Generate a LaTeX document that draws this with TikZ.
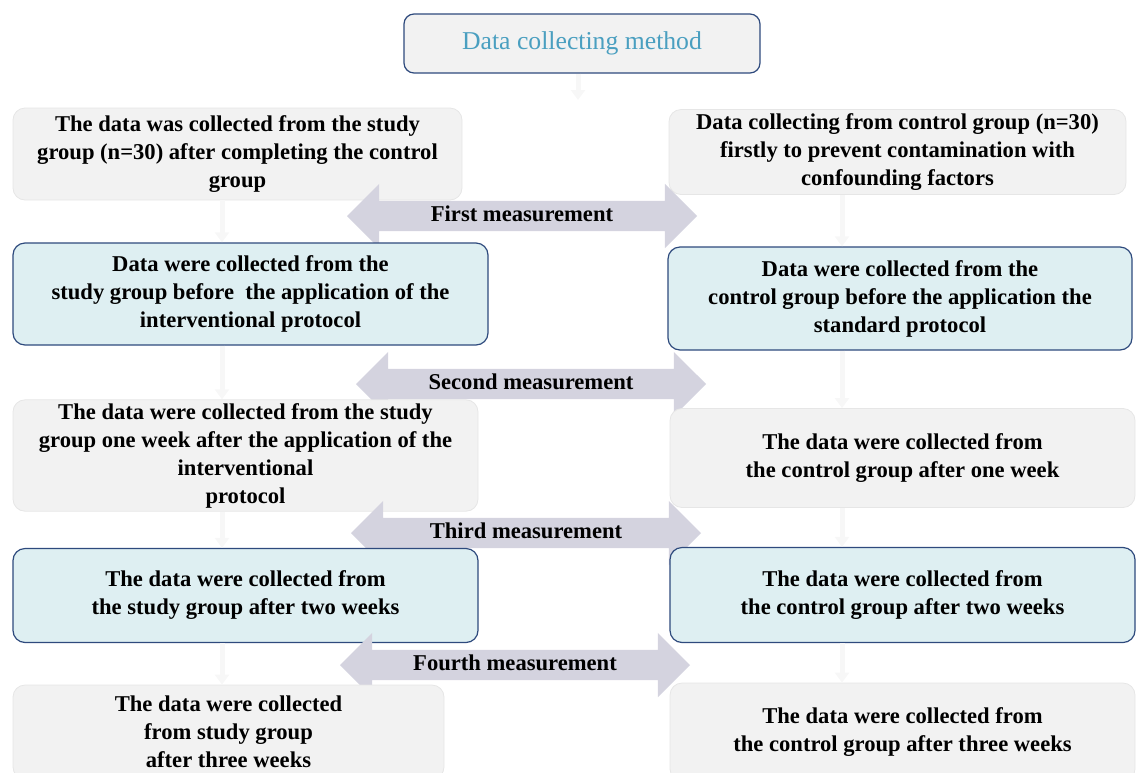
\documentclass[tikz,border=0pt]{standalone}
\usepackage{fontspec}
\setmainfont{Liberation Serif}
\usetikzlibrary{shapes.arrows, arrows.meta}
\definecolor{boxgray}{RGB}{242,242,242}
\definecolor{edgegray}{RGB}{230,230,230}
\definecolor{boxcyan}{RGB}{222,239,242}
\definecolor{edgeblue}{RGB}{46,74,125}
\definecolor{titleblue}{RGB}{74,159,192}
\definecolor{arrowgray}{RGB}{212,211,223}
\tikzset{
  plain/.style = {rectangle, rounded corners=12pt, fill=boxgray, draw=edgegray, line width=0.8pt, align=center, font=\bfseries\fontsize{22.6}{28}\selectfont},
  stage/.style = {plain, fill=boxcyan, draw=edgeblue, line width=1.2pt},
  title/.style = {rectangle, rounded corners=10pt, fill=boxgray, draw=edgeblue, line width=1.2pt, text=titleblue, font=\fontsize{25.7}{30}\selectfont},
  measure/.style = {double arrow, double arrow head extend=17pt, double arrow head indent=0pt, fill=arrowgray, minimum height=350pt, inner ysep=6pt, text height=14pt, text depth=4pt, font=\bfseries\fontsize{22.6}{26}\selectfont},
  link/.style = {draw=gray!6, line width=5pt, -{Triangle[width=14pt,length=10pt]}}
}
\begin{document}
\begin{tikzpicture}[x=1pt,y=-1pt]
\useasboundingbox (0,0) rectangle (1140,772);
\coordinate (lc) at (222,0);
\coordinate (rc) at (842,0);
% title
\node (method) [title, minimum width=356pt, minimum height=59pt] at (582,43.5) {Data collecting method};
\coordinate (split) at (578,100);
% first row
\node (l1) [plain, minimum width=449pt, minimum height=92pt] at (237.5,154) {The data was collected from the study\\group (n=30) after completing the control\\group};
\node (r1) [plain, minimum width=457pt, minimum height=85pt] at (897.5,152) {Data collecting from control group (n=30)\\firstly to prevent contamination with\\confounding factors};
\node (m1) [measure] at (522,216) {First measurement};
% second row
\node (l2) [stage, minimum width=475pt, minimum height=102pt] at (250.5,294) {Data were collected from the\\study group before\ \ the application of the\\interventional protocol};
\node (r2) [stage, minimum width=464pt, minimum height=103pt] at (900,298.5) {Data were collected from the\\control group before the application the\\standard protocol};
\node (m2) [measure] at (531,384) {Second measurement};
% third row
\node (l3) [plain, minimum width=465pt, minimum height=110pt] at (245.5,455.5) {The data were collected from the study\\group one week after the application of the\\interventional\\protocol};
\node (r3) [plain, minimum width=465pt, minimum height=99pt] at (902.5,458) {The data were collected from\\the control group after one week};
\node (m3) [measure] at (526,533) {Third measurement};
% fourth row
\node (l4) [stage, minimum width=465pt, minimum height=94pt] at (245.5,595.5) {The data were collected from\\the study group after two weeks};
\node (r4) [stage, minimum width=465pt, minimum height=95pt] at (902.5,595) {The data were collected from\\the control group after two weeks};
\node (m4) [measure] at (515,665) {Fourth measurement};
% last row
\node (l5) [plain, minimum width=431pt, minimum height=94pt] at (228.5,732) {The data were collected\\from study group\\after three weeks};
\node (r5) [plain, minimum width=465pt, minimum height=98pt] at (902.5,732) {The data were collected from\\the control group after three weeks};
% faint links
\draw [link] (method.south -| split) -- (split);
\draw [link] (l1.south -| lc) -- (l2.north -| lc);
\draw [link] (l2.south -| lc) -- (l3.north -| lc);
\draw [link] (l3.south -| lc) -- (l4.north -| lc);
\draw [link] (l4.south -| lc) -- (l5.north -| lc);
\draw [link] (r1.south -| rc) -- (r2.north -| rc);
\draw [link] (r2.south -| rc) -- (r3.north -| rc);
\draw [link] (r3.south -| rc) -- (r4.north -| rc);
\draw [link] (r4.south -| rc) -- (r5.north -| rc);
\end{tikzpicture}
\end{document}
